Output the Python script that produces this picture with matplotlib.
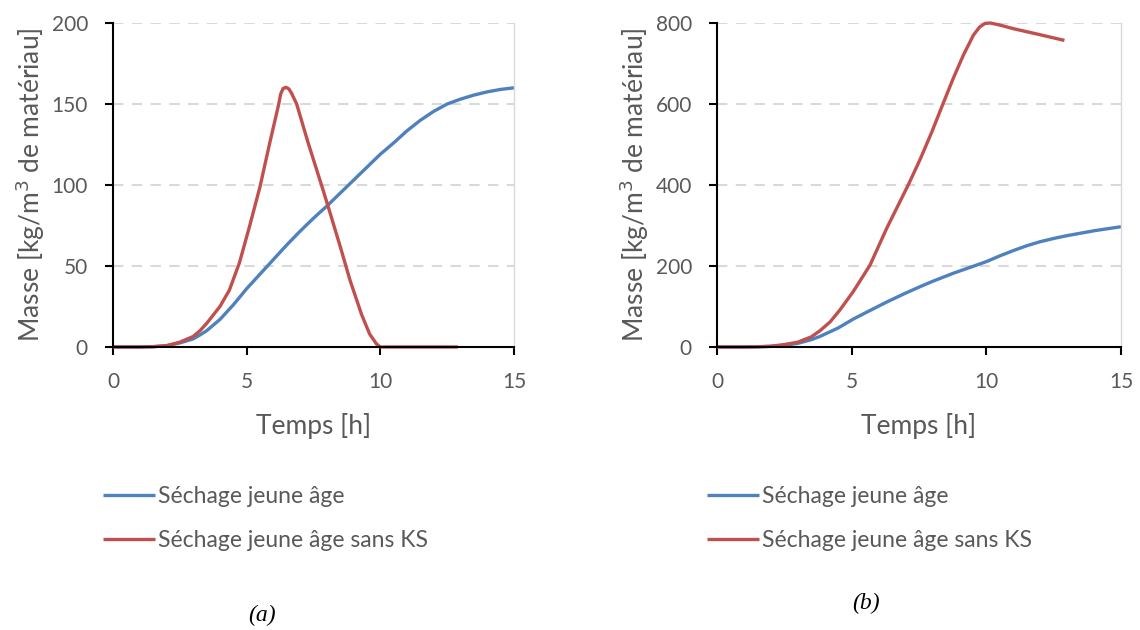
import matplotlib
matplotlib.use("Agg")
import matplotlib.pyplot as plt

# ---- data ----
t_blue_a = [0, 1, 1.5, 2, 2.5, 3, 3.25, 3.5, 4, 4.5, 5, 5.5, 6, 6.5, 7, 7.5, 8, 8.5, 9, 9.5, 10, 10.5, 11, 11.5, 12, 12.5, 13, 13.5, 14, 14.5, 15]
m_blue_a = [0, 0, 0.2, 0.8, 2.5, 5, 7.4, 10, 17, 26, 36, 45, 54, 63, 71.5, 79.5, 87, 95, 103, 111, 119, 126, 133.5, 140, 145.5, 150, 153, 155.5, 157.5, 159, 160]
t_red_a = [0, 1, 1.5, 2, 2.5, 3, 3.25, 3.5, 4, 4.35, 4.73, 5.1, 5.5, 5.85, 6.2, 6.27, 6.36, 6.47, 6.58, 6.68, 6.87, 7.3, 7.81, 8.05, 8.5, 8.87, 9.3, 9.6, 9.85, 10.0, 11, 12, 12.9]
m_red_a = [0, 0, 0.2, 0.8, 3, 6.5, 10, 14.5, 25, 35, 52, 74, 99, 125, 150, 156, 159.5, 160.3, 159.3, 156.6, 150, 126, 99.4, 86.6, 62, 41, 20, 8, 2, 0, 0, 0, 0]

t_blue_b = [0, 1, 1.5, 2, 2.5, 3, 3.5, 3.82, 4.5, 5.06, 5.5, 6.3, 7, 7.54, 8, 8.77, 9.5, 10.01, 10.5, 11, 11.5, 12, 12.5, 13, 13.5, 14, 14.5, 15]
m_blue_b = [0, 0, 0.5, 1.5, 4, 9, 18, 26, 47, 69, 84, 111, 133, 149, 162, 182, 199, 211, 225, 238, 250, 260, 268, 275, 281, 287, 292, 297]
t_red_b = [0, 1, 1.5, 2, 2.5, 3, 3.5, 3.82, 4.2, 4.57, 5.06, 5.68, 6.3, 7.1, 7.54, 7.97, 8.4, 8.77, 9.15, 9.52, 9.75, 9.95, 10.15, 10.5, 11, 12, 12.9]
m_red_b = [0, 0, 0.5, 2, 6, 12, 25, 40, 62, 92, 137, 202, 293, 400, 463, 530, 602, 663, 721, 770, 790, 799, 800, 795, 786, 771, 757]

x_ticks = [0, 5, 10, 15]
y_ticks_a = [0, 50, 100, 150, 200]
y_ticks_b = [0, 200, 400, 600, 800]
labels = ["Séchage jeune âge", "Séchage jeune âge sans KS"]
panel_tags = ["(a)", "(b)"]

BLUE = "#4F81BD"
RED = "#C0504D"
GRAY = "#595959"
GRID = "#D9D9D9"

plt.rcParams['font.family'] = ['Lato', 'DejaVu Sans']
plt.rcParams['lines.solid_joinstyle'] = 'round'

fig = plt.figure(figsize=(11.4, 6.3), dpi=100)
ax_a = fig.add_axes([113/1140, 1-347/630, (514-113)/1140, (347-23)/630])
ax_b = fig.add_axes([717/1140, 1-347/630, (1121-717)/1140, (347-23)/630])

def style(ax, yt):
    ax.set_xlim(0, 15)
    ax.set_ylim(yt[0], yt[-1])
    ax.set_xticks(x_ticks)
    ax.set_yticks(yt)
    for yv in yt[1:]:
        ax.axhline(yv, color=GRID, lw=1.5, ls=(0, (5, 4)), zorder=0)
    ax.spines['left'].set_color('black')
    ax.spines['bottom'].set_color('black')
    ax.spines['left'].set_linewidth(1.5)
    ax.spines['bottom'].set_linewidth(1.5)
    ax.spines['right'].set_color(GRID)
    ax.spines['right'].set_linewidth(1.0)
    ax.spines['top'].set_visible(False)
    ax.tick_params(axis='both', direction='out', length=6, width=1.5, color='black',
                   labelsize=15, labelcolor=GRAY, pad=12)
    ax.set_xlabel("Temps [h]", fontsize=19, color=GRAY, labelpad=15)
    ax.set_ylabel("Masse [kg/m$^3$ de matériau]", fontsize=19, color=GRAY, labelpad=3)

for ax, tb, mb, tr, mr, yt in [(ax_a, t_blue_a, m_blue_a, t_red_a, m_red_a, y_ticks_a),
                               (ax_b, t_blue_b, m_blue_b, t_red_b, m_red_b, y_ticks_b)]:
    ax.plot(tb, mb, color=BLUE, lw=2.4, label=labels[0], clip_on=False, solid_capstyle='butt')
    ax.plot(tr, mr, color=RED, lw=2.4, label=labels[1], clip_on=False, solid_capstyle='butt')
    style(ax, yt)

for ax, x0 in [(ax_a, 94/1140), (ax_b, 698/1140)]:
    h, l = ax.get_legend_handles_labels()
    fig.legend(h, l, loc='upper left', bbox_to_anchor=(x0, 1-477/630), frameon=False,
               fontsize=16.5, labelcolor=GRAY, handlelength=2.27, handletextpad=0.13,
               labelspacing=0.98, borderaxespad=0)

fig.text(262/1140, 1-615/630, panel_tags[0], fontsize=17, family='Liberation Serif',
         style='italic', ha='center', va='center', color='black')
fig.text(866/1140, 1-603/630, panel_tags[1], fontsize=17, family='Liberation Serif',
         style='italic', ha='center', va='center', color='black')

fig.savefig("out.png", dpi=100)
